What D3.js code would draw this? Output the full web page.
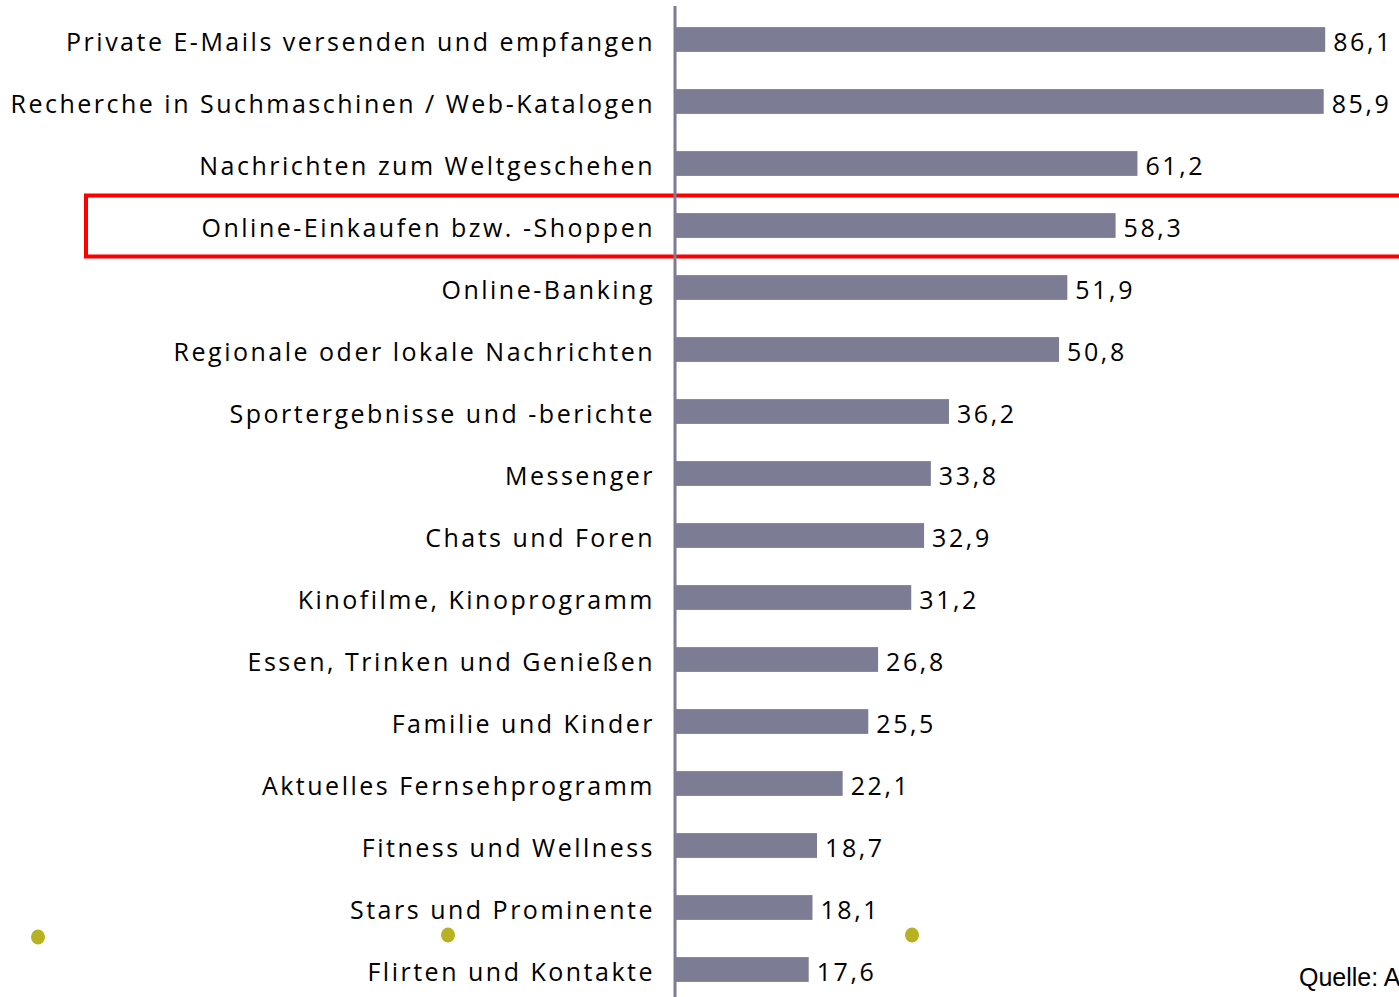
<!DOCTYPE html>
<html>
<head>
<meta charset="utf-8">
<script src="https://cdn.jsdelivr.net/npm/d3@7"></script>
<style>
  body { margin: 0; background: #fff; overflow: hidden; }
  svg { display: block; }
  .label { font-family: 'Open Sans', sans-serif; font-size: 25px; letter-spacing: 2.5px; fill: #000; }
  .value { font-family: 'Open Sans', sans-serif; font-size: 25px; letter-spacing: 2.6px; fill: #000; }
</style>
</head>
<body>
<svg width="1399" height="997"></svg>
<script>
// categories and values (percent)
var categories = [
    'Private E-Mails versenden und empfangen',
    'Recherche in Suchmaschinen / Web-Katalogen',
    'Nachrichten zum Weltgeschehen',
    'Online-Einkaufen bzw. -Shoppen',
    'Online-Banking',
    'Regionale oder lokale Nachrichten',
    'Sportergebnisse und -berichte',
    'Messenger',
    'Chats und Foren',
    'Kinofilme, Kinoprogramm',
    'Essen, Trinken und Genießen',
    'Familie und Kinder',
    'Aktuelles Fernsehprogramm',
    'Fitness und Wellness',
    'Stars und Prominente',
    'Flirten und Kontakte'
];
var values = [86.1, 85.9, 61.2, 58.3, 51.9, 50.8, 36.2, 33.8, 32.9, 31.2, 26.8, 25.5, 22.1, 18.7, 18.1, 17.6];
var highlighted = ['Online-Einkaufen bzw. -Shoppen'];
var sourceText = 'Quelle: A';

var data = categories.map(function(c, i) { return {name: c, value: values[i]}; });

var svg = d3.select('svg');

var axisX = 675;

var xScale = d3.scaleLinear()
    .domain([0, 100])
    .range([axisX + 1, axisX + 1 + 754]);

var yScale = d3.scaleBand()
    .domain(categories)
    .range([8.5, 8.5 + categories.length * 62])
    .paddingInner(0.6)
    .paddingOuter(0.3);

var fmt = function(v) { return d3.format('.1f')(v).replace('.', ','); };

// highlight box
highlighted.forEach(function(name) {
    var step = yScale.step();
    var cy = yScale(name) + yScale.bandwidth() / 2;
    svg.append('rect')
        .attr('x', 86)
        .attr('y', cy - step / 2 + 1)
        .attr('width', 1400)
        .attr('height', step - 1)
        .attr('fill', 'none')
        .attr('stroke', '#ff0000')
        .attr('stroke-width', 4);
});

// bars
svg.selectAll('.bar')
    .data(data)
    .enter().append('rect')
    .attr('class', 'bar')
    .attr('x', xScale(0))
    .attr('y', function(d) { return yScale(d.name); })
    .attr('width', function(d) { return xScale(d.value) - xScale(0); })
    .attr('height', yScale.bandwidth())
    .attr('fill', '#7c7c94');

// value labels
svg.selectAll('.value')
    .data(data)
    .enter().append('text')
    .attr('class', 'value')
    .attr('x', function(d) { return xScale(d.value) + 8; })
    .attr('y', function(d) { return yScale(d.name) + yScale.bandwidth() / 2; })
    .attr('dy', '0.46em')
    .text(function(d) { return fmt(d.value); });

// category axis, drawn with d3 but styled as a plain line
var yAxisG = svg.append('g')
    .attr('transform', 'translate(' + [axisX, 0] + ')')
    .call(d3.axisLeft(yScale).tickSize(0).tickPadding(20));

yAxisG.select('.domain').remove();
yAxisG.selectAll('text')
    .attr('class', 'label')
    .attr('dy', '0.46em')
    .attr('font-family', null)
    .attr('font-size', null)
    .attr('fill', null);

svg.append('line')
    .attr('x1', axisX).attr('x2', axisX)
    .attr('y1', 6).attr('y2', 997)
    .attr('stroke', '#7c7c94')
    .attr('stroke-width', 3);

// decorative dots
var dots = [[38, 937], [448, 935], [912, 935]];
svg.selectAll('.dot')
    .data(dots)
    .enter().append('ellipse')
    .attr('class', 'dot')
    .attr('cx', function(d) { return d[0]; })
    .attr('cy', function(d) { return d[1]; })
    .attr('rx', 7)
    .attr('ry', 7.5)
    .attr('fill', '#b8b222');

svg.append('text')
    .attr('x', 1299)
    .attr('y', 986)
    .attr('font-family', 'Arial, Liberation Sans, sans-serif')
    .attr('font-size', 25)
    .attr('fill', '#000')
    .text(sourceText);
</script>
</body>
</html>
